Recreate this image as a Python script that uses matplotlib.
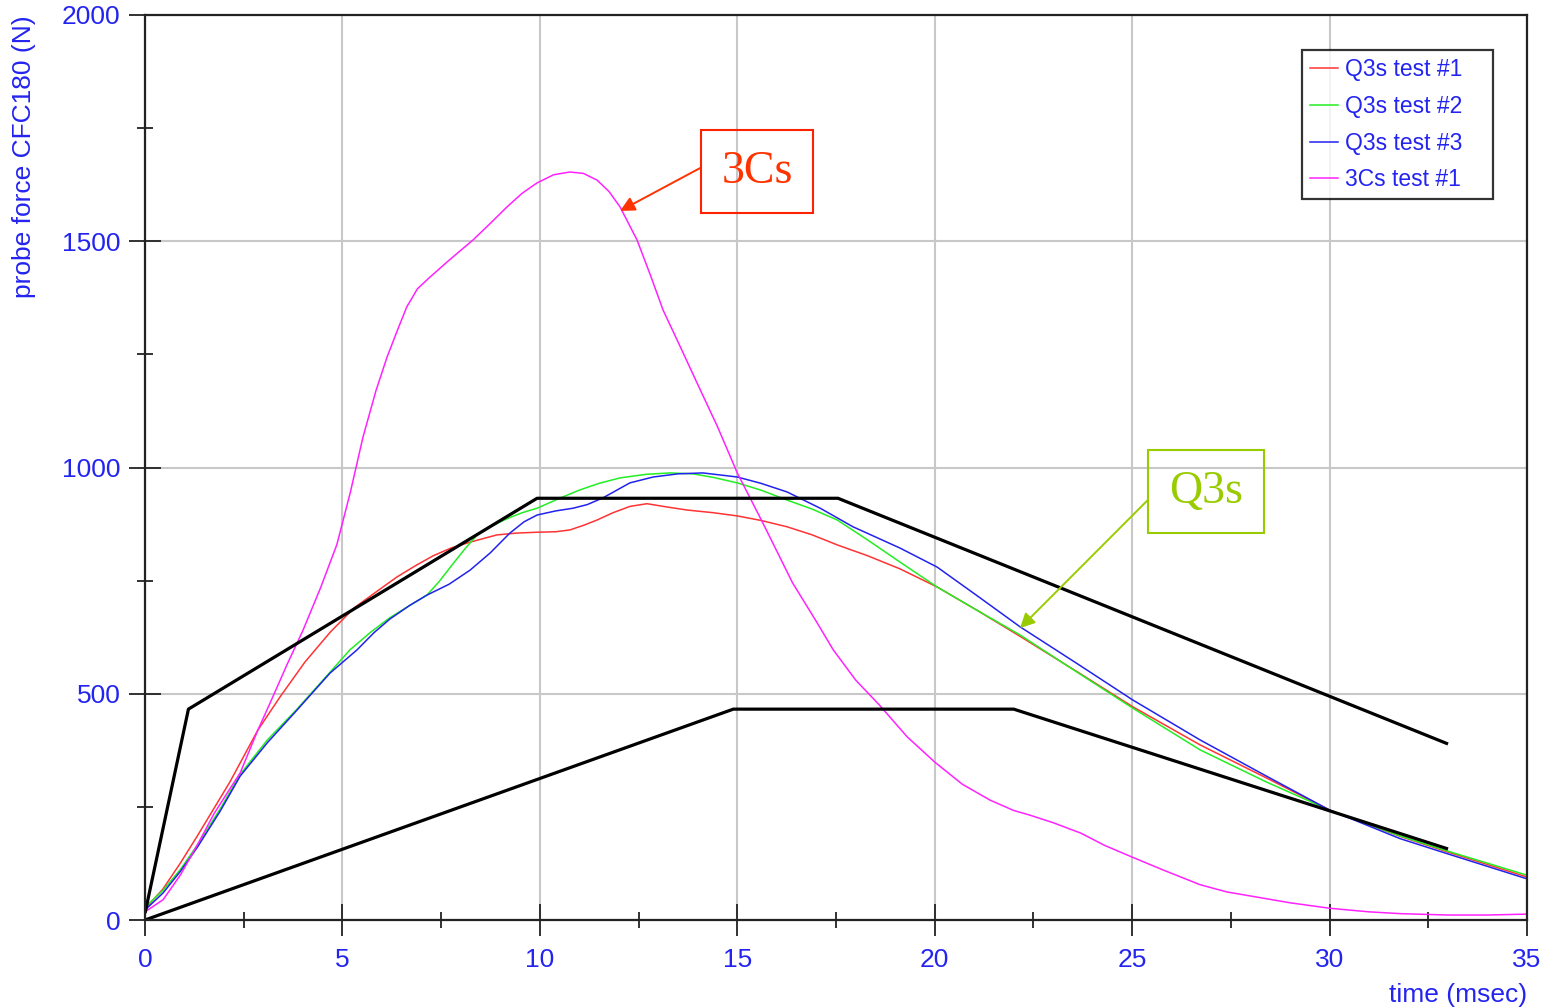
import matplotlib
matplotlib.use('Agg')
import matplotlib.pyplot as plt
from matplotlib.ticker import MultipleLocator

# Q3s test #1 (red)
t_q1 = [0, 0.45, 0.89, 1.32, 2.15, 2.86, 3.42, 4.05, 4.69, 5.3, 5.9, 6.38, 6.85, 7.3, 7.75, 8.23,
        8.91, 9.4, 9.93, 10.4, 10.76, 11.1, 11.45, 11.85, 12.28, 12.71, 13.2, 13.73, 14.4, 15.0,
        15.6, 16.26, 16.9, 17.53, 18.3, 19.12, 20.06, 21.1, 22.16, 23.6, 25.02, 26.72, 28.4,
        30.0, 31.78, 33.0, 35.0]
f_q1 = [25, 68, 125, 185, 305, 420, 493, 570, 636, 690, 728, 758, 783, 805, 822, 835,
        851, 855, 857, 858, 862, 872, 884, 900, 914, 920, 913, 906, 900, 893,
        883, 869, 851, 829, 805, 776, 736, 683, 627, 549, 471, 387, 314,
        243, 185, 150, 95]

# Q3s test #2 (green)
t_q2 = [0, 0.46, 0.9, 1.32, 1.9, 2.41, 3.1, 3.85, 4.3, 4.69, 5.19, 5.7, 6.2, 6.7, 7.14, 7.45,
        7.78, 8.1, 8.41, 8.8, 9.2, 9.55, 9.93, 10.5, 11.0, 11.5, 12.03, 12.7, 13.3, 13.88, 14.4,
        15.0, 15.6, 16.26, 16.9, 17.53, 18.3, 19.12, 20.06, 21.1, 22.16, 23.6, 25.02, 26.72,
        28.4, 30.0, 31.78, 33.0, 35.0]
f_q2 = [28, 66, 112, 165, 245, 322, 398, 466, 510, 548, 597, 635, 668, 695, 718, 748,
        785, 820, 851, 872, 888, 900, 910, 932, 950, 965, 977, 985, 988, 986, 978,
        966, 950, 928, 908, 884, 840, 791, 736, 683, 630, 548, 468, 376,
        305, 243, 186, 152, 99]

# Q3s test #3 (blue)
t_q3 = [0, 0.46, 0.9, 1.32, 1.9, 2.41, 3.1, 3.85, 4.3, 4.69, 5.37, 5.8, 6.2, 6.7, 7.14, 7.7,
        8.23, 8.74, 9.24, 9.6, 9.93, 10.4, 10.84, 11.2, 11.6, 12.28, 12.87, 13.5, 14.13, 15.0,
        15.6, 16.26, 17.1, 17.93, 19.12, 20.06, 21.1, 22.16, 23.6, 25.02, 26.72, 28.4,
        30.0, 31.78, 33.0, 35.0]
f_q3 = [22, 60, 108, 160, 240, 318, 392, 464, 508, 546, 597, 635, 665, 695, 718, 742,
        773, 811, 855, 880, 895, 904, 910, 918, 933, 966, 979, 986, 988, 979,
        965, 946, 910, 869, 822, 780, 715, 648, 567, 486, 398, 318,
        243, 180, 146, 91]

# 3Cs test #1 (magenta)
t_c1 = [0, 0.46, 0.9, 1.32, 1.75, 2.15, 2.41, 2.86, 3.17, 3.6, 4.0, 4.45, 4.86, 5.2, 5.52,
        5.85, 6.13, 6.4, 6.63, 6.9, 7.22, 7.7, 8.31, 8.75, 9.17, 9.55, 9.93, 10.35, 10.76, 11.1,
        11.45, 11.75, 12.03, 12.46, 12.8, 13.12, 13.55, 13.98, 14.5, 15.0, 15.65, 16.4, 17.0,
        17.43, 18.0, 18.6, 19.3, 20.0, 20.7, 21.4, 22.0, 22.4, 23.0, 23.7, 24.3, 25.0, 25.8,
        26.72, 27.4, 28.2, 29.0, 30.0, 31.0, 31.8, 33.0, 34.0, 35.0]
f_c1 = [18, 45, 100, 165, 235, 290, 325, 420, 480, 565, 640, 735, 830, 945, 1067,
        1170, 1244, 1305, 1355, 1395, 1421, 1458, 1503, 1540, 1576, 1606, 1629, 1647, 1653, 1650,
        1635, 1610, 1576, 1503, 1425, 1348, 1268, 1187, 1090, 988, 877, 745, 660,
        597, 530, 475, 405, 349, 300, 265, 242, 232, 215, 192, 165, 139, 110,
        78, 62, 50, 38, 26, 18, 14, 11, 11, 13]

# corridors
t_upper = [0, 1.1, 9.93, 17.55, 33.0]
f_upper = [15, 466, 932, 932, 389]
t_lower = [0, 14.9, 22.0, 33.0]
f_lower = [0, 466, 466, 157]

blue_txt = '#2424F0'
plt.rcParams['font.family'] = ['Liberation Sans', 'DejaVu Sans']

fig = plt.figure(figsize=(15.61, 10.08), dpi=100)
ax = fig.add_axes([145 / 1561, 1 - 920 / 1008, (1527 - 145) / 1561, (920 - 15) / 1008])

ax.plot(t_q1, f_q1, color='#FF3333', lw=1.1, label='Q3s test #1')
ax.plot(t_q2, f_q2, color='#22EE22', lw=1.1, label='Q3s test #2')
ax.plot(t_q3, f_q3, color='#2222EE', lw=1.1, label='Q3s test #3')
ax.plot(t_c1, f_c1, color='#FF22FF', lw=1.1, label='3Cs test #1')
ax.plot(t_upper, f_upper, color='black', lw=2.3, solid_capstyle='butt')
ax.plot(t_lower, f_lower, color='black', lw=2.3, solid_capstyle='butt')

ax.set_xlim(0, 35)
ax.set_ylim(0, 2000)
ax.xaxis.set_major_locator(MultipleLocator(5))
ax.xaxis.set_minor_locator(MultipleLocator(2.5))
ax.yaxis.set_major_locator(MultipleLocator(500))
ax.yaxis.set_minor_locator(MultipleLocator(250))
ax.grid(True, which='major', color='#C8C8C8', lw=1.5)
ax.set_axisbelow(True)

ax.tick_params(which='major', direction='inout', length=23, width=1.3, color='#222222',
               labelsize=19, labelcolor=blue_txt)
ax.tick_params(which='minor', direction='inout', length=12, width=1.3, color='#222222')
ax.tick_params(axis='x', which='major', pad=9)
ax.tick_params(axis='y', which='major', pad=6)
for s in ax.spines.values():
    s.set_linewidth(1.6)
    s.set_color('#222222')

ax.set_xlabel('time (msec)', fontsize=19, color=blue_txt, loc='right')
ax.set_ylabel('probe force CFC180 (N)', fontsize=19, color=blue_txt, loc='top')
ax.xaxis.set_label_coords(1.0, -0.07)
ax.yaxis.set_label_coords(-0.079, 1.0)

# legend box stretched to the original width, entries left aligned
leg = ax.legend(loc='upper left', bbox_to_anchor=(0.8372, 0.7613, 0.1382, 0.2), mode='expand',
                borderaxespad=0, fontsize=16.5, frameon=True, fancybox=False,
                handlelength=1.22, handletextpad=0.3, labelspacing=0.6, borderpad=0.35)
leg.get_frame().set_edgecolor('black')
leg.get_frame().set_linewidth(1.6)
for txt in leg.get_texts():
    txt.set_color(blue_txt)

# annotations
ax.annotate('3Cs', xy=(12.03, 1567), xytext=(15.5, 1654), fontsize=33,
            family='Liberation Serif', color='#FF3300', ha='center', va='center',
            bbox=dict(boxstyle='square,pad=0.45', fc='none', ec='#FF2200', lw=1.5),
            arrowprops=dict(arrowstyle='-|>', color='#FF3300', lw=1.4, mutation_scale=22,
                            shrinkA=0, shrinkB=0, relpos=(0, 0.85)))
ax.annotate('Q3s', xy=(22.16, 645), xytext=(26.87, 947), fontsize=33,
            family='Liberation Serif', color='#99CC00', ha='center', va='center',
            bbox=dict(boxstyle='square,pad=0.45', fc='none', ec='#99CC00', lw=1.5),
            arrowprops=dict(arrowstyle='-|>', color='#99CC00', lw=1.4, mutation_scale=22,
                            shrinkA=0, shrinkB=0, relpos=(0, 0.8)))

fig.savefig('out.png', dpi=100)
